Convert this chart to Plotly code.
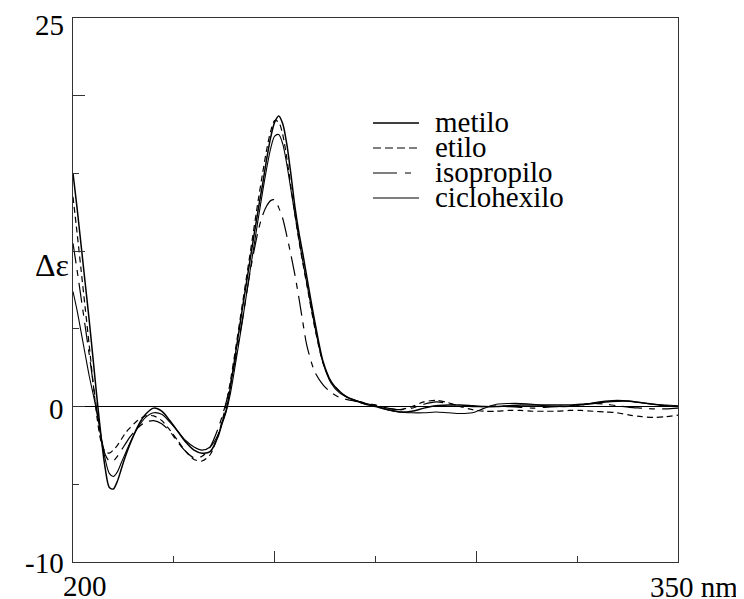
import plotly.graph_objects as go

# ---------------- data ----------------
wavelength = [200, 201, 202, 203, 204, 205, 206, 207, 208, 209, 210, 211, 212, 213, 214,
              216, 218, 220, 222, 224, 226, 228, 230, 232, 234, 236, 237, 238, 239, 240,
              242, 244, 246, 247, 248, 249, 250, 251, 252, 253, 254, 255, 256, 257, 258,
              260, 262, 264, 266, 268, 270, 272, 275, 278, 281, 284, 287, 290, 293, 296,
              299, 302, 305, 308, 311, 314, 317, 320, 323, 326, 329, 332, 335, 338, 341,
              344, 347, 350]

metilo = [15.0, 12.8, 10.4, 8.0, 5.6, 3.0, 0.4, -2.0, -4.0, -5.2, -5.3, -4.8, -4.0, -3.2, -2.5,
          -1.3, -0.5, -0.1, -0.3, -0.9, -1.6, -2.3, -2.8, -3.0, -2.9, -1.9, -1.0, -0.2, 1.2, 2.9,
          6.3, 9.6, 12.8, 14.3, 15.9, 17.3, 18.3, 18.7, 18.2, 16.9, 15.0, 12.9, 11.2, 9.8, 8.3,
          5.4, 2.9, 1.6, 1.0, 0.6, 0.4, 0.2, 0.0, -0.2, -0.35, -0.3, -0.1, 0.05, 0.1, 0.1,
          0.05, 0.0, 0.0, 0.05, 0.1, 0.1, 0.1, 0.1, 0.1, 0.15, 0.2, 0.3, 0.35, 0.35, 0.25,
          0.15, 0.05, 0.0]

etilo = [13.5, 11.2, 8.8, 6.4, 4.0, 1.5, -0.8, -2.3, -2.9, -3.0, -2.8, -2.5, -2.1, -1.7, -1.4,
         -0.9, -0.6, -0.6, -0.9, -1.5, -2.2, -2.9, -3.4, -3.5, -3.1, -1.8, -0.9, 0.2, 1.6, 3.2,
         6.6, 10.0, 13.4, 15.0, 16.5, 17.7, 18.4, 18.3, 17.5, 16.0, 14.2, 12.4, 10.7, 9.2, 7.8,
         5.0, 2.8, 1.6, 1.0, 0.6, 0.35, 0.2, 0.1, -0.1, -0.2, 0.0, 0.3, 0.4, 0.25, 0.0,
         -0.2, -0.3, -0.3, -0.25, -0.25, -0.3, -0.3, -0.3, -0.25, -0.25, -0.3, -0.35, -0.4, -0.55, -0.65,
         -0.7, -0.65, -0.55]

isopropilo = [10.5, 8.8, 7.0, 5.2, 3.4, 1.5, -0.4, -2.0, -3.1, -3.5, -3.5, -3.2, -2.8, -2.4, -2.0,
              -1.4, -1.0, -0.9, -1.1, -1.6, -2.3, -2.9, -3.3, -3.2, -2.6, -1.4, -0.6, 0.3, 1.4, 2.7,
              5.6, 8.8, 11.4, 12.3, 12.9, 13.25, 13.3, 12.8, 12.1, 11.0, 9.8, 8.5, 7.0, 5.4, 3.9,
              2.2, 1.4, 0.9, 0.6, 0.45, 0.35, 0.25, 0.1, -0.1, -0.2, -0.1, 0.15, 0.3, 0.2, 0.05,
              0.0, 0.0, 0.05, 0.0, -0.05, -0.1, -0.05, 0.0, 0.05, 0.1, 0.2, 0.15, 0.05, -0.05, -0.1,
              -0.15, -0.15, -0.1]

ciclohexilo = [7.4, 6.2, 4.8, 3.4, 2.0, 0.8, -0.5, -2.0, -3.4, -4.3, -4.5, -4.2, -3.6, -3.0, -2.4,
               -1.4, -0.7, -0.4, -0.5, -1.0, -1.6, -2.2, -2.6, -2.8, -2.6, -1.8, -1.1, -0.3, 0.8, 2.3,
               5.5, 8.9, 12.2, 13.8, 15.3, 16.6, 17.4, 17.5, 16.9, 15.6, 14.0, 12.4, 10.8, 9.3, 7.9,
               5.1, 2.8, 1.5, 0.9, 0.6, 0.4, 0.25, 0.05, -0.2, -0.35, -0.4, -0.4, -0.35, -0.4, -0.45,
               -0.4, -0.1, 0.15, 0.2, 0.2, 0.15, 0.05, 0.0, 0.0, 0.1, 0.25, 0.35, 0.4, 0.35, 0.25,
               0.15, 0.1, 0.05]

series_names = ["metilo", "etilo", "isopropilo", "ciclohexilo"]
series_values = [metilo, etilo, isopropilo, ciclohexilo]

y_tick_labels = ["25", "0", "-10"]
y_tick_values = [25, 0, -10]
x_left_label = "200"
x_right_label = "350 nm"
y_title = "Δε"

# ---------------- styles ----------------
FONT = "'Liberation Serif', 'Times New Roman', Times, serif"
TICK_SIZE = 29
LEG_SIZE = 29
dashes = ["solid", "6px,4px", "20px,7px,6px,7px", "solid"]
widths = [1.5, 1.2, 1.2, 1.1]
legend_dashes = ["solid", "8px,4px", "24px,8px,6px,8px", "solid"]

# the page adds an 8 px body margin, so figure coords = page coords - 8
W, H = 736, 591
L, R, T, B = 65, 670, 10, 554

fig = go.Figure()
for name, vals, d, w in zip(series_names, series_values, dashes, widths):
    fig.add_trace(go.Scatter(
        x=wavelength, y=vals, mode="lines", name=name,
        line=dict(color="black", width=w, dash=d, shape="spline", smoothing=0.8),
        showlegend=False, hoverinfo="skip"))

fig.update_layout(
    width=W, height=H,
    margin=dict(l=L, r=W - R, t=T, b=H - B, pad=0),
    paper_bgcolor="white", plot_bgcolor="white",
    font=dict(family=FONT, color="black"),
    xaxis=dict(range=[200, 350], showgrid=False, zeroline=False,
               showline=True, linecolor="#333", linewidth=1, mirror=True,
               ticks="inside", tick0=200, dtick=50, ticklen=11, tickcolor="#333",
               minor=dict(ticks="inside", tick0=200, dtick=25, ticklen=6, tickcolor="#333"),
               showticklabels=False),
    yaxis=dict(range=[-10, 25], showgrid=False, zeroline=True,
               zerolinecolor="black", zerolinewidth=1,
               showline=True, linecolor="#333", linewidth=1, mirror=True,
               ticks="inside", tick0=-10, dtick=10, ticklen=12, tickcolor="#333",
               minor=dict(ticks="inside", tick0=-10, dtick=5, ticklen=6, tickcolor="#333"),
               showticklabels=False),
)

# axis labels as text
ann = []
y_shifts = [-7, -2, -1]
for txt, v, ys in zip(y_tick_labels, y_tick_values, y_shifts):
    ann.append(dict(x=200, y=v, xref="x", yref="y", text=txt, showarrow=False,
                    xanchor="right", yanchor="middle", xshift=-7, yshift=ys,
                    font=dict(size=TICK_SIZE, family=FONT, color="black")))
ann.append(dict(x=200, y=-10, xref="x", yref="y", text=x_left_label, showarrow=False,
                xanchor="center", yanchor="middle", xshift=12, yshift=-24,
                font=dict(size=TICK_SIZE, family=FONT, color="black")))
ann.append(dict(x=350, y=-10, xref="x", yref="y", text=x_right_label, showarrow=False,
                xanchor="center", yanchor="middle", xshift=16, yshift=-25,
                font=dict(size=TICK_SIZE, family=FONT, color="black")))
ann.append(dict(x=200, y=9.1, xref="x", yref="y", text=y_title, showarrow=False,
                xanchor="center", yanchor="middle", xshift=-21,
                font=dict(size=32, family=FONT, color="black")))

# manual legend (positions in page pixels of the reference)
def px2paper_x(px):
    return (px - 8 - L) / (R - L)

def px2paper_y(py):
    return (B - (py - 8)) / (B - T)

leg_x0, leg_x1, leg_text_x = 373, 419, 433
leg_y0, leg_dy = 123, 25
shapes = []
for i, (name, d, w) in enumerate(zip(series_names, legend_dashes, widths)):
    yy = px2paper_y(leg_y0 + i * leg_dy)
    shapes.append(dict(type="line", xref="paper", yref="paper",
                       x0=px2paper_x(leg_x0), x1=px2paper_x(leg_x1), y0=yy, y1=yy,
                       line=dict(color="black", width=w, dash=d)))
    ann.append(dict(x=px2paper_x(leg_text_x), y=yy, xref="paper", yref="paper",
                    text=name, showarrow=False, xanchor="left", yanchor="middle",
                    yshift=1, font=dict(size=LEG_SIZE, family=FONT, color="black")))

fig.update_layout(annotations=ann, shapes=shapes)
fig.write_html("out.html")
